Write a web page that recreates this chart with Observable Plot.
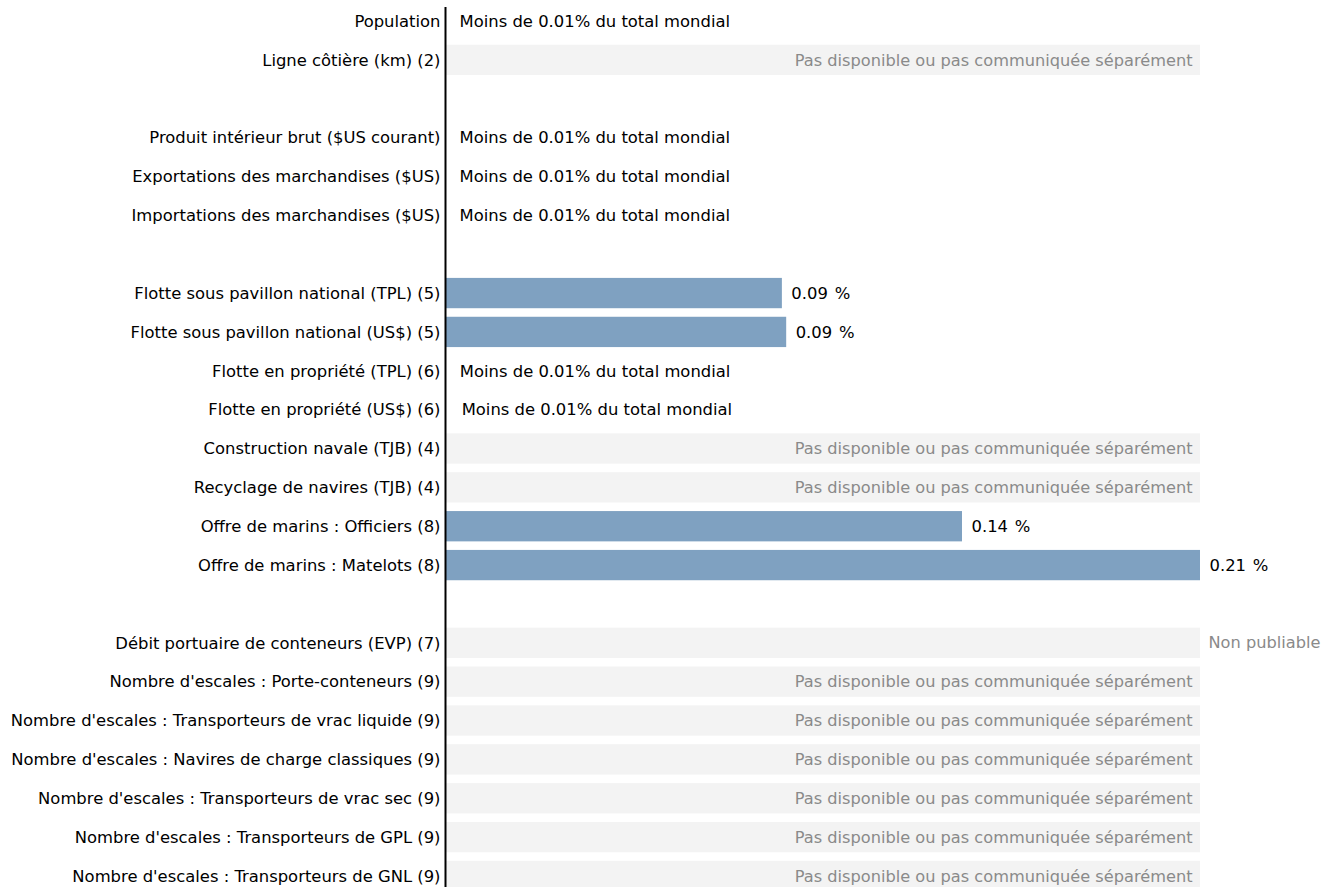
<!DOCTYPE html>
<html>
<head>
<meta charset="utf-8">
<script src="https://cdn.jsdelivr.net/npm/d3@7"></script>
<script src="https://cdn.jsdelivr.net/npm/@observablehq/plot@0.6"></script>
<style>
  html, body { margin: 0; padding: 0; background: #fff; overflow: hidden; }
  #chart svg { display: block; }
</style>
</head>
<body>
<div id="chart"></div>
<script>
// Row labels (spacer rows are blank keys)
const labels = [
  "Population",
  "Ligne côtière (km) (2)",
  "",
  "Produit intérieur brut ($US courant)",
  "Exportations des marchandises ($US)",
  "Importations des marchandises ($US)",
  " ",
  "Flotte sous pavillon national (TPL) (5)",
  "Flotte sous pavillon national (US$) (5)",
  "Flotte en propriété (TPL) (6)",
  "Flotte en propriété (US$) (6)",
  "Construction navale (TJB) (4)",
  "Recyclage de navires (TJB) (4)",
  "Offre de marins : Officiers (8)",
  "Offre de marins : Matelots (8)",
  "  ",
  "Débit portuaire de conteneurs (EVP) (7)",
  "Nombre d'escales : Porte-conteneurs (9)",
  "Nombre d'escales : Transporteurs de vrac liquide (9)",
  "Nombre d'escales : Navires de charge classiques (9)",
  "Nombre d'escales : Transporteurs de vrac sec (9)",
  "Nombre d'escales : Transporteurs de GPL (9)",
  "Nombre d'escales : Transporteurs de GNL (9)"
];
// Share of world total (%)
const values = [
  0.00002, null, null,
  0.00002, 0.00002, 0.00002, null,
  0.0937, 0.0949, 0.0001, 0.0006, null, null, 0.1438, 0.21, null,
  null, null, null, null, null, null, null
];
// v = value, lt = less than 0.01%, na = not available, np = not publishable, "" = spacer
const status = [
  "lt", "na", "",
  "lt", "lt", "lt", "",
  "v", "v", "lt", "lt", "na", "na", "v", "v", "",
  "np", "na", "na", "na", "na", "na", "na"
];
const txtLess = "Moins de 0.01% du total mondial";
const txtNA = "Pas disponible ou pas communiquée séparément";
const txtNP = "Non publiable";

const rows = labels.map((label, i) => ({label, value: values[i], status: status[i]}));
const xMax = d3.max(values);
const bars = rows.filter(d => d.status === "v");
const greys = rows.filter(d => d.status === "na" || d.status === "np");
const less = rows.filter(d => d.status === "lt");
const na = rows.filter(d => d.status === "na");
const np = rows.filter(d => d.status === "np");

const font = "DejaVu Sans, Verdana, sans-serif";
const fs = 16.4;

const chart = Plot.plot({
  width: 1337,
  height: 895,
  marginLeft: 445,
  marginRight: 137,
  marginTop: 7,
  marginBottom: 0,
  style: {fontFamily: font, fontSize: fs + "px", color: "#000", background: "#fff"},
  x: {domain: [0, xMax], axis: null},
  y: {domain: labels, range: [2, 895], paddingInner: 0.22, paddingOuter: 0.1, round: false, label: null},
  marks: [
    Plot.barX(greys, {y: "label", x1: 0, x2: xMax, fill: "#f3f3f3"}),
    Plot.barX(bars, {y: "label", x: "value", fill: "#7fa1c1"}),
    Plot.text(bars, {y: "label", x: "value", text: d => d3.format(".2f")(d.value) + "\u00a0\u200a%", textAnchor: "start", dx: 9, fill: "#000", fontSize: fs}),
    Plot.text(less, {y: "label", x: "value", text: () => txtLess, textAnchor: "start", dx: 14, fill: "#000", fontSize: fs}),
    Plot.text(na, {y: "label", x: () => xMax, text: () => txtNA, textAnchor: "end", dx: -8, fill: "#8a8a8a", fontSize: 16.2}),
    Plot.text(np, {y: "label", x: () => xMax, text: () => txtNP, textAnchor: "start", dx: 8, fill: "#8a8a8a", fontSize: 16.2}),
    Plot.axisY({tickSize: 0, tickPadding: 5, fontSize: fs, tickFormat: d => d.trim() === "" ? "" : d}),
    Plot.ruleX([0], {stroke: "#000", strokeWidth: 2})
  ]
});
document.getElementById("chart").appendChild(chart);
</script>
</body>
</html>
